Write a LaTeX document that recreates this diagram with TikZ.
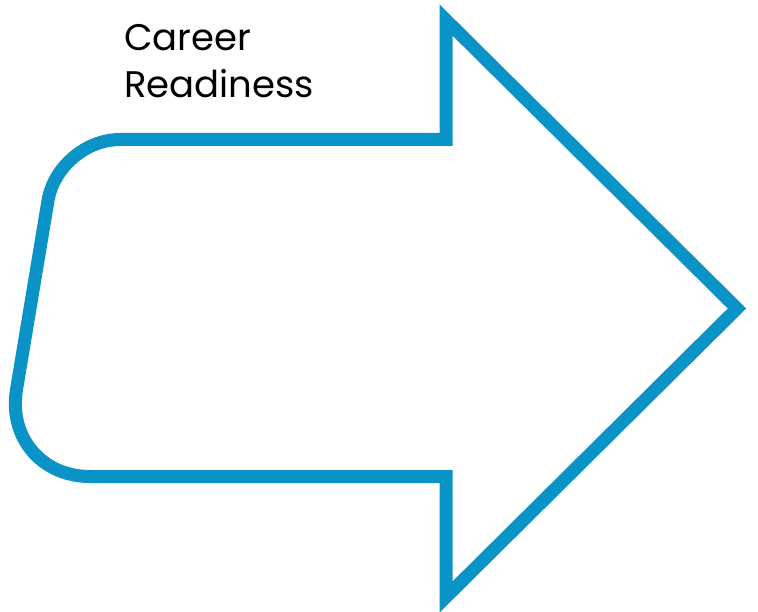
\documentclass[tikz,border=0pt]{standalone}
\usepackage{fontspec}
\setmainfont{Poppins}
\definecolor{arrowblue}{RGB}{9,147,198}
\begin{document}
\begin{tikzpicture}[x=1pt,y=-1pt,
  arrowline/.style={draw=arrowblue,line width=13pt,miter limit=10,line join=miter},
  labeltext/.style={inner sep=0pt,align=left,font=\fontsize{37}{47}\selectfont,text=black}]
\useasboundingbox (0,0) rectangle (758,612);
\draw[arrowline]
  (446,139.5) -- (446,20) -- (737,308.5) -- (446,597) -- (446,476.5)
  -- (90,476.5) .. controls (41.6,476.5) and (8.6,437.4) .. (16.5,389.7)
  -- (48,200.6) .. controls (53.6,167) and (86,139.5) .. (120,139.5) -- cycle;
\node[labeltext,anchor=north west] (label) at (124,24) {Career\\Readiness};
\end{tikzpicture}
\end{document}
